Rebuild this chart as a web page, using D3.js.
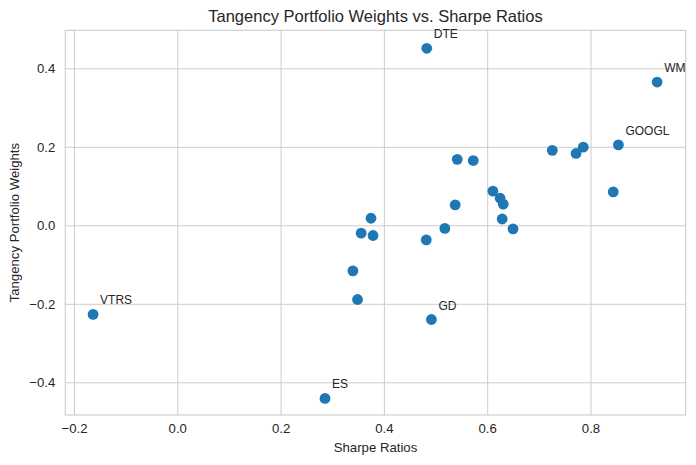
<!DOCTYPE html>
<html>
<head>
<meta charset="utf-8">
<script src="https://cdn.jsdelivr.net/npm/d3@7"></script>
<style>
  body { margin: 0; background: #fff; }
  text { font-family: "Liberation Sans", Arial, sans-serif; fill: #262626; }
</style>
</head>
<body>
<div id="chart"></div>
<script>
// sharpe ratio (x) and tangency weight (y) per ticker
const tickers = ["DTE", "WM", "GOOGL", "VTRS", "ES", "GD",
  "A1", "A2", "A3", "A4", "A5", "A6", "A7", "A8", "A9", "A10",
  "A11", "A12", "A13", "A14", "A15", "A16", "A17", "A18", "A19"];
const sharpe = [0.483, 0.929, 0.854, -0.163, 0.286, 0.492,
  0.542, 0.573, 0.611, 0.625, 0.631, 0.629, 0.650, 0.538, 0.518, 0.482,
  0.375, 0.356, 0.379, 0.340, 0.349, 0.726, 0.772, 0.786, 0.844];
const weights = [0.451, 0.365, 0.205, -0.227, -0.441, -0.240,
  0.168, 0.165, 0.087, 0.069, 0.054, 0.016, -0.009, 0.052, -0.008, -0.037,
  0.018, -0.020, -0.026, -0.116, -0.189, 0.191, 0.183, 0.199, 0.085];
// only these get a text label
const labelled = ["DTE", "WM", "GOOGL", "VTRS", "ES", "GD"];

const xTicks = [-0.2, 0.0, 0.2, 0.4, 0.6, 0.8];
const yTicks = [-0.4, -0.2, 0.0, 0.2, 0.4];

const wid = 696, hei = 465;
const margin = {left: 65.3, right: 10.3, top: 30.3, bottom: 50};

const svg = d3.select("#chart").append("svg")
  .attr("width", wid).attr("height", hei);

const xScale = d3.scaleLinear()
  .domain([-0.2168, 0.9843])
  .range([margin.left, wid - margin.right]);
const yScale = d3.scaleLinear()
  .domain([-0.4833, 0.4968])
  .range([hei - margin.bottom, margin.top]);

const fmt = d3.format(".1f");

// grid lines via extended ticks
svg.append("g")
  .attr("transform", `translate(0,${hei - margin.bottom})`)
  .call(d3.axisBottom(xScale).tickValues(xTicks)
    .tickSize(-(hei - margin.bottom - margin.top)).tickFormat(""))
  .call(g => g.select(".domain").remove())
  .call(g => g.selectAll("line").attr("stroke", "#cccccc").attr("stroke-width", 1));
svg.append("g")
  .attr("transform", `translate(${margin.left},0)`)
  .call(d3.axisLeft(yScale).tickValues(yTicks)
    .tickSize(-(wid - margin.left - margin.right)).tickFormat(""))
  .call(g => g.select(".domain").remove())
  .call(g => g.selectAll("line").attr("stroke", "#cccccc").attr("stroke-width", 1));

// frame
svg.append("rect")
  .attr("x", margin.left).attr("y", margin.top)
  .attr("width", wid - margin.left - margin.right)
  .attr("height", hei - margin.top - margin.bottom)
  .attr("fill", "none").attr("stroke", "#cccccc").attr("stroke-width", 1.1);

// tick labels
const xAxis = svg.append("g")
  .attr("transform", `translate(0,${hei - margin.bottom})`)
  .call(d3.axisBottom(xScale).tickValues(xTicks).tickSize(0).tickPadding(9).tickFormat(fmt));
xAxis.select(".domain").remove();
xAxis.selectAll("text").style("font-size", "13.2px")
  .style("font-family", "'Liberation Sans', Arial, sans-serif").attr("fill", "#262626");

const yAxis = svg.append("g")
  .attr("transform", `translate(${margin.left},0)`)
  .call(d3.axisLeft(yScale).tickValues(yTicks).tickSize(0).tickPadding(10).tickFormat(fmt));
yAxis.select(".domain").remove();
yAxis.selectAll("text").style("font-size", "13.2px")
  .style("font-family", "'Liberation Sans', Arial, sans-serif").attr("fill", "#262626");

// points
const pts = tickers.map((t, i) => [t, sharpe[i], weights[i]]);
svg.selectAll("circle")
  .data(pts)
  .enter()
  .append("circle")
  .attr("cx", d => xScale(d[1]))
  .attr("cy", d => yScale(d[2]))
  .attr("r", 5.4)
  .attr("fill", "#1f77b4");

// annotations
svg.selectAll(".lbl")
  .data(pts.filter(d => labelled.includes(d[0])))
  .enter()
  .append("text")
  .attr("class", "lbl")
  .attr("x", d => xScale(d[1]) + 7)
  .attr("y", d => yScale(d[2]) - 10)
  .style("font-size", "12px")
  .text(d => d[0]);

// title and axis labels
svg.append("text")
  .attr("x", (margin.left + wid - margin.right) / 2)
  .attr("y", 22)
  .attr("text-anchor", "middle")
  .style("font-size", "16.5px")
  .text("Tangency Portfolio Weights vs. Sharpe Ratios");

svg.append("text")
  .attr("x", (margin.left + wid - margin.right) / 2)
  .attr("y", 452)
  .attr("text-anchor", "middle")
  .style("font-size", "13.2px")
  .text("Sharpe Ratios");

svg.append("text")
  .attr("transform", `translate(19,${(margin.top + hei - margin.bottom) / 2}) rotate(-90)`)
  .attr("text-anchor", "middle")
  .style("font-size", "13.2px")
  .text("Tangency Portfolio Weights");
</script>
</body>
</html>
